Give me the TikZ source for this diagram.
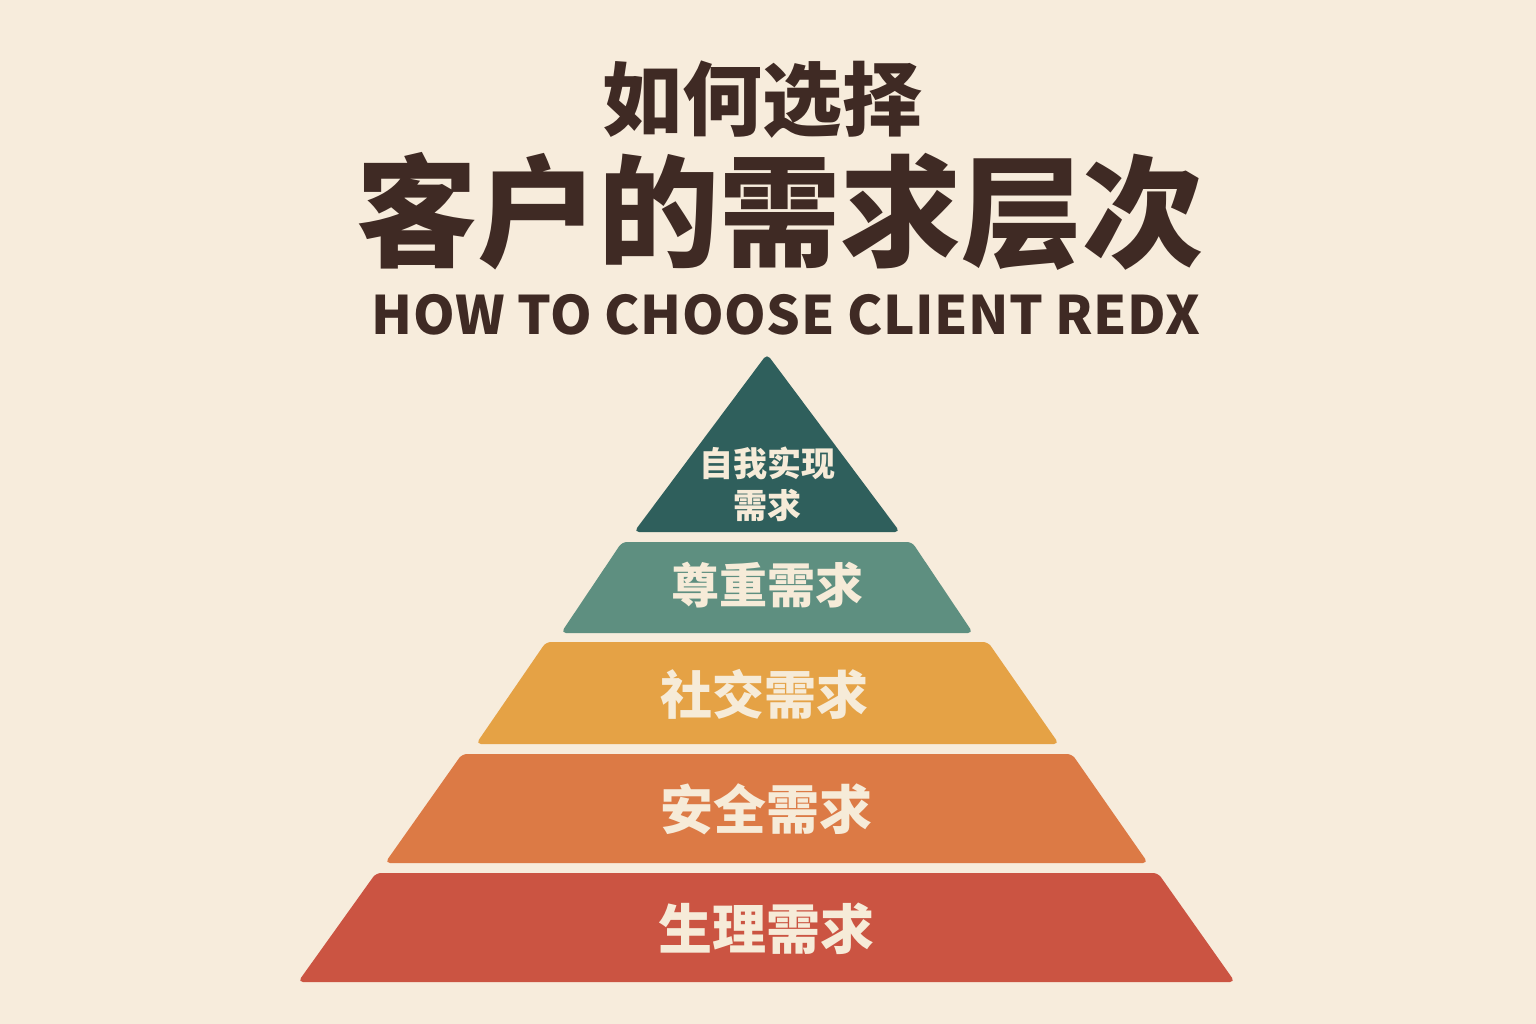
\documentclass[tikz,border=0pt]{standalone}
\usepackage{fontspec}
\newfontfamily\cjk{Noto Sans CJK SC}
\newfontfamily\latinsp[LetterSpace=1]{Noto Sans CJK SC}
\definecolor{bg}{HTML}{F7ECDC}
\definecolor{ink}{HTML}{3F2A24}
\definecolor{cream}{HTML}{F6EBD8}
\definecolor{cA}{HTML}{2F5F5C}
\definecolor{cB}{HTML}{5E8F80}
\definecolor{cC}{HTML}{E5A245}
\definecolor{cD}{HTML}{DC7A45}
\definecolor{cE}{HTML}{CB5442}
\begin{document}
\begin{tikzpicture}[x=1pt,y=-1pt,
  layer/.style={rounded corners=5pt, draw=none},
  lbl/.style={text=cream, font=\cjk\bfseries, inner sep=0pt, align=center},
  ttl/.style={text=ink, inner sep=0pt}]
\fill[bg] (0,0) rectangle (1536,1024);
\useasboundingbox (0,0) rectangle (1536,1024);
% titles
\node[ttl, font=\cjk\bfseries\fontsize{80}{80}\selectfont] (t1) at (762,100) {如何选择};
\node[ttl, font=\cjk\bfseries\fontsize{121}{121}\selectfont] (t2) at (780,211) {客户的需求层次};
\node[ttl, font=\latinsp\bfseries\fontsize{53}{53}\selectfont] (t3) at (786,315) {HOW TO CHOOSE CLIENT REDX};
% pyramid layers
\fill[layer, cA] (767,354) -- (900,532) -- (634,532) -- cycle;
\fill[layer, cB] (622,542) -- (912,542) -- (973,633) -- (561,633) -- cycle;
\fill[layer, cC] (546,642) -- (988,642) -- (1059,744) -- (476,744) -- cycle;
\fill[layer, cD] (462,754) -- (1072,754) -- (1148,863) -- (385,863) -- cycle;
\fill[layer, cE] (376,873) -- (1158,873) -- (1235,982) -- (298,982) -- cycle;
% labels
\node[lbl, font=\cjk\bfseries\fontsize{34}{42}\selectfont] (l1) at (767,484) {自我实现\\需求};
\node[lbl, font=\cjk\bfseries\fontsize{48}{48}\selectfont] (l2) at (767,585) {尊重需求};
\node[lbl, font=\cjk\bfseries\fontsize{52}{52}\selectfont] (l3) at (764,694) {社交需求};
\node[lbl, font=\cjk\bfseries\fontsize{53}{53}\selectfont] (l4) at (766,809) {安全需求};
\node[lbl, font=\cjk\bfseries\fontsize{54}{54}\selectfont] (l5) at (766,929) {生理需求};
\end{tikzpicture}
\end{document}
